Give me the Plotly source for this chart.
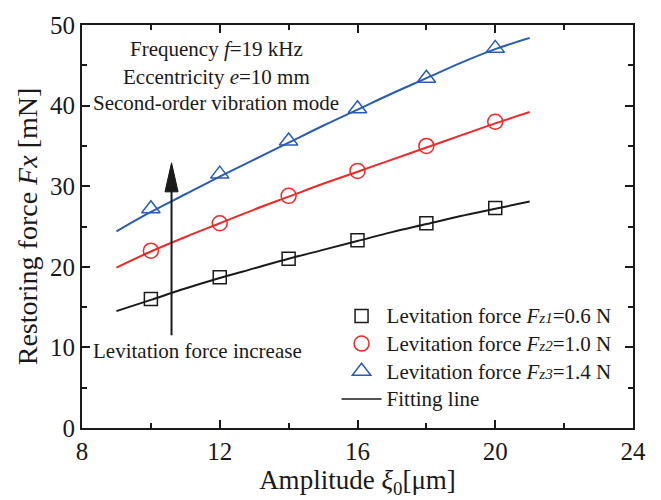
import plotly.graph_objects as go

# Measured data
amplitude = [10, 12, 14, 16, 18, 20]
force_fz1 = [16.0, 18.7, 21.0, 23.3, 25.4, 27.3]
force_fz2 = [22.0, 25.4, 28.8, 31.9, 35.0, 38.0]
force_fz3 = [27.2, 31.5, 35.6, 39.6, 43.4, 47.1]

# Fitting lines
fit_x = [9, 10, 11, 12, 13, 14, 15, 16, 17, 18, 19, 20, 21]
fit_fz1 = [14.5, 15.9, 17.3, 18.6, 19.8, 21.0, 22.1, 23.2, 24.3, 25.3, 26.3, 27.2, 28.1]
fit_fz2 = [19.9, 21.9, 23.7, 25.4, 27.1, 28.7, 30.3, 31.8, 33.3, 34.8, 36.3, 37.8, 39.2]
fit_fz3 = [24.4, 26.8, 29.0, 31.2, 33.3, 35.4, 37.5, 39.5, 41.5, 43.4, 45.3, 47.0, 48.4]

x_ticks = [8, 12, 16, 20, 24]
y_ticks = [0, 10, 20, 30, 40, 50]

BLACK = "#1a1a1a"
RED = "#f02828"
BLUE = "#2a5cb0"
FONT = "Liberation Serif"

fig = go.Figure()

# fitting lines
for fy, col in [(fit_fz1, BLACK), (fit_fz2, RED), (fit_fz3, BLUE)]:
    fig.add_trace(go.Scatter(x=fit_x, y=fy, mode="lines", line=dict(color=col, width=2, shape="spline"),
                             showlegend=False, hoverinfo="skip"))

def big(s):
    return '<span style="font-size:21px">' + s + '</span>'

def sub(s):
    return '<span style="font-size:15px">' + s + '</span>'

fig.add_trace(go.Scatter(x=amplitude, y=force_fz1, mode="markers",
                         marker=dict(symbol="square-open", size=13, color=BLACK, line=dict(width=1.5, color=BLACK)),
                         name=big("Levitation force <i>F") + sub("<i>z1</i>") + big("=0.6 N")))
fig.add_trace(go.Scatter(x=amplitude, y=force_fz2, mode="markers",
                         marker=dict(symbol="circle-open", size=15, color=RED, line=dict(width=1.5, color=RED)),
                         name=big("Levitation force <i>F") + sub("<i>z2</i>") + big("=1.0 N")))
fig.add_trace(go.Scatter(x=amplitude, y=force_fz3, mode="markers",
                         marker=dict(symbol="triangle-up-open", size=16, color=BLUE, line=dict(width=1.5, color=BLUE)),
                         name=big("Levitation force <i>F") + sub("<i>z3</i>") + big("=1.4 N")))
fig.add_trace(go.Scatter(x=[None], y=[None], mode="lines", line=dict(color=BLACK, width=1.5),
                         name=big("Fitting line")))

axis_common = dict(
    showline=True, linecolor=BLACK, linewidth=2, mirror="allticks",
    ticks="inside", ticklen=8, tickwidth=1.5, tickcolor=BLACK,
    showgrid=False, zeroline=False,
    tickfont=dict(family=FONT, size=25, color=BLACK),
)

fig.update_xaxes(range=[8, 24], tickvals=x_ticks, ticktext=[str(v) for v in x_ticks],
                 minor=dict(dtick=2, ticks="inside", ticklen=5, tickwidth=1.5, tickcolor=BLACK),
                 title=dict(text="Amplitude <i>ξ</i><sub>0</sub>[μm]", font=dict(family=FONT, size=27, color=BLACK), standoff=4),
                 **axis_common)
fig.update_yaxes(range=[0, 50], tickvals=y_ticks, ticktext=[str(v) for v in y_ticks],
                 minor=dict(dtick=5, ticks="inside", ticklen=5, tickwidth=1.5, tickcolor=BLACK),
                 title=dict(text="Restoring force <i>Fx</i> [mN]", font=dict(family=FONT, size=28, color=BLACK), standoff=4),
                 **axis_common)

# arrow (shaft + head)
fig.add_shape(type="line", x0=10.6, x1=10.6, y0=11.5, y1=30.5, xref="x", yref="y",
              line=dict(color=BLACK, width=2))
fig.add_shape(type="path", path="M 10.41,29.3 L 10.6,32.9 L 10.79,29.3 Z", xref="x", yref="y",
              fillcolor=BLACK, line=dict(color=BLACK, width=1))

ann_font = dict(family=FONT, size=21, color=BLACK)
fig.add_annotation(x=11.34, y=9.6, xref="x", yref="y", text="Levitation force increase",
                   showarrow=False, font=ann_font)
for txt, yy in [("Frequency <i>f</i>=19 kHz", 47.0), ("Eccentricity <i>e</i>=10 mm", 43.6),
                ("Second-order vibration mode", 40.3)]:
    fig.add_annotation(x=11.9, y=yy, xref="x", yref="y", text=txt, showarrow=False, font=ann_font)

fig.update_layout(
    width=661, height=500,
    margin=dict(l=82, r=28, t=17, b=66),
    paper_bgcolor="white", plot_bgcolor="white",
    legend=dict(x=0.462, y=0.325, xanchor="left", yanchor="top", bgcolor="rgba(0,0,0,0)",
                font=dict(family=FONT, size=19, color=BLACK), tracegroupgap=0, itemwidth=40),
    font=dict(family=FONT, color=BLACK),
)

fig.write_html("out.html")
